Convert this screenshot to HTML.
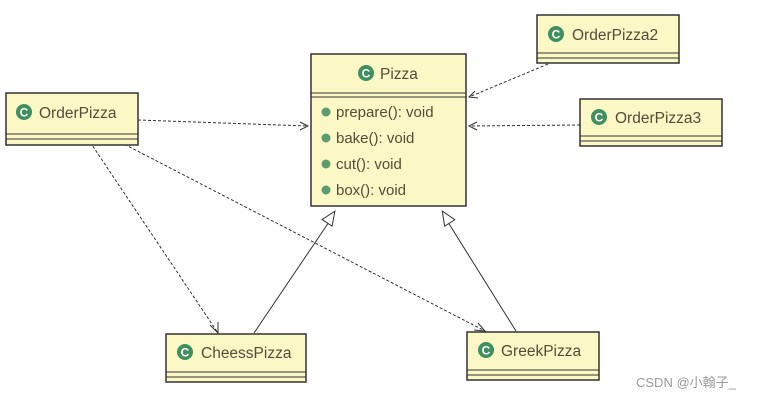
<!DOCTYPE html>
<html><head><meta charset="utf-8"><style>
html,body{margin:0;padding:0;background:#fff;width:764px;height:401px;overflow:hidden}
text{font-family:"Liberation Sans","Noto Sans CJK SC",sans-serif;fill:#5a4a3a}
</style></head><body>
<svg width="764" height="401" viewBox="0 0 764 401" xmlns="http://www.w3.org/2000/svg">
<defs>
<g id="c"><circle r="8" fill="#3f8f5f"/><text x="0" y="4.5" text-anchor="middle" style="font-size:12px;font-weight:bold;fill:#fff">C</text></g>
</defs>
<g stroke="#333" stroke-width="1" fill="none">
<line x1="138" y1="120" x2="308" y2="126" stroke-dasharray="3,2"/>
<polyline points="300,122 308,126 300,130"/>
<line x1="548" y1="64" x2="469" y2="97" stroke-dasharray="3,2"/>
<polyline points="475,91 469,97 478,98"/>
<line x1="580" y1="125" x2="469" y2="126" stroke-dasharray="3,2"/>
<polyline points="477,122 469,126 477,130"/>
<line x1="90" y1="142" x2="218" y2="333" stroke-dasharray="3,2"/>
<polyline points="210,325 218,333 218,322"/>
<line x1="120" y1="142" x2="485" y2="331" stroke-dasharray="3,2"/>
<polyline points="474,330 485,331 478,323"/>
<line x1="254" y1="333" x2="331" y2="219"/>
<polygon points="331,210 325,224 337,224" fill="#fff" transform="rotate(34 331 217)"/>
<line x1="516" y1="331" x2="446" y2="219"/>
<polygon points="446,210 440,224 452,224" fill="#fff" transform="rotate(-32 446 217)"/>
</g>
<g stroke="#333" stroke-width="1.5" fill="#fbf8c6">
<rect x="311" y="54" width="155" height="152"/>
<rect x="6" y="93" width="132" height="52"/>
<rect x="537" y="15" width="142" height="48"/>
<rect x="580" y="99" width="142" height="47"/>
<rect x="166" y="334" width="140" height="48"/>
<rect x="467" y="332" width="132" height="48"/>
</g>
<g stroke="#333" stroke-width="1">
<line x1="311" y1="93" x2="466" y2="93"/><line x1="311" y1="97" x2="466" y2="97"/>
<line x1="6" y1="134" x2="138" y2="134"/><line x1="6" y1="139" x2="138" y2="139"/>
<line x1="537" y1="53" x2="679" y2="53"/><line x1="537" y1="58" x2="679" y2="58"/>
<line x1="580" y1="136" x2="722" y2="136"/><line x1="580" y1="141" x2="722" y2="141"/>
<line x1="166" y1="372" x2="306" y2="372"/><line x1="166" y1="377" x2="306" y2="377"/>
<line x1="467" y1="370" x2="599" y2="370"/><line x1="467" y1="375" x2="599" y2="375"/>
</g>
<use href="#c" x="366" y="73"/><text x="380" y="79" style="font-size:15.5px">Pizza</text>
<g style="font-size:15px">
<circle cx="326" cy="112" r="4.5" fill="#5c9c6c"/><text x="336" y="117">prepare(): void</text>
<circle cx="326" cy="138" r="4.5" fill="#5c9c6c"/><text x="336" y="143">bake(): void</text>
<circle cx="326" cy="164" r="4.5" fill="#5c9c6c"/><text x="336" y="169">cut(): void</text>
<circle cx="326" cy="190" r="4.5" fill="#5c9c6c"/><text x="336" y="195">box(): void</text>
</g>
<g style="font-size:15.5px">
<use href="#c" x="24" y="112"/><text x="39" y="118">OrderPizza</text>
<use href="#c" x="556" y="34"/><text x="572" y="40">OrderPizza2</text>
<use href="#c" x="599" y="117"/><text x="615" y="123">OrderPizza3</text>
<use href="#c" x="185" y="352"/><text x="201" y="358">CheessPizza</text>
<use href="#c" x="486" y="350"/><text x="501" y="356">GreekPizza</text>
</g>
<text x="636" y="387" style="font-size:13px;fill:#999">CSDN @小翰子_</text>
</svg>
</body></html>
